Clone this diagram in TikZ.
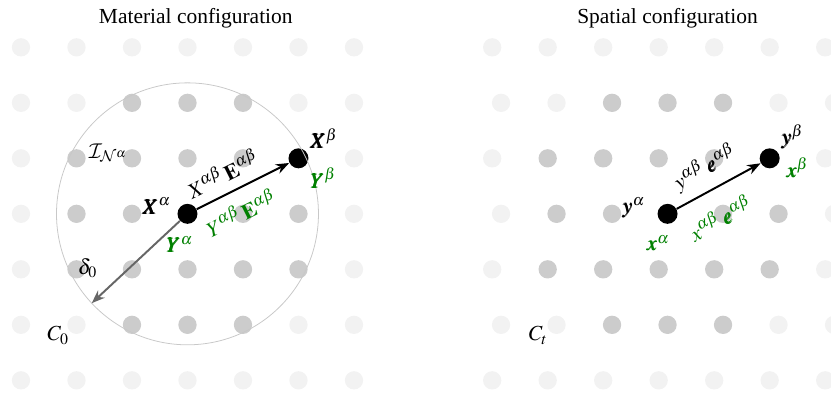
\documentclass[tikz,border=0pt]{standalone}
\usepackage{mathptmx}
\DeclareMathAlphabet{\mathcal}{OMS}{cmsy}{m}{n}
\usepackage{bm}
\usepackage{fontspec}
\setmainfont{Liberation Serif}
\usetikzlibrary{arrows.meta,positioning,calc}
\definecolor{dotout}{HTML}{F2F2F2}
\definecolor{dotin}{HTML}{CCCCCC}
\definecolor{ring}{HTML}{C8C8C8}
\definecolor{leaf}{HTML}{008000}
\definecolor{slate}{HTML}{666666}

\begin{document}
\begin{tikzpicture}[
  font=\fontsize{11}{13}\selectfont,
  pt/.style={circle,fill=black,inner sep=0pt,minimum size=3.6mm},
  lbl/.style={inner sep=1pt},
  glbl/.style={inner sep=1pt,text=leaf},
  vec/.style={-{Stealth[length=2.4mm,width=1.8mm]},line width=1pt,draw=black},
  radvec/.style={-{Stealth[length=2.4mm,width=1.8mm]},line width=1pt,draw=slate},
]
\useasboundingbox (-0.378,-0.252) rectangle (14.595,6.853);

% Lattice points (shaded inside the neighbourhood)
\foreach \i in {0,...,6}{
  \foreach \j in {0,...,6}{
    \pgfmathtruncatemacro\inside{((\i-3)^2+(\j-3)^2<=5)}
    \pgfmathsetmacro\shift{mod(\j,2)==1 ? 0.16 : 0}
    \ifnum\inside=1 \def\dc{dotin}\else\def\dc{dotout}\fi
    \fill[\dc] (\i,\j) circle (0.165);
    \fill[\dc] (8.49+\i+\shift,\j) circle (0.165);
  }
}

% Titles
\node (mat) at (3.15,6.53) {Material configuration};
\node (spa) at (11.65,6.53) {Spatial configuration};

% Material configuration
\node[pt] (Xa) at (3,3) {};
\node[pt] (Xb) at (5,4) {};
\draw[ring,thin] (Xa.center) circle (2.36);
\coordinate (rim) at ($(Xa.center)+(223:2.36)$);
\draw[radvec] (Xa) -- (rim) node[pos=0.82,above left=2pt,text=black] (del) {$\delta_0$};
\draw[vec] (Xa) -- (Xb)
  node[pos=0.38,sloped,above=4pt,lbl] (XE) {$X^{\alpha\beta}\,\mathbf{E}^{\alpha\beta}$}
  node[pos=0.37,sloped,below=5pt,glbl] (YE) {$Y^{\alpha\beta}\,\mathbf{E}^{\alpha\beta}$};
\node[lbl,left=2pt of Xa,yshift=4pt] (XaL) {$\bm{X}^{\alpha}$};
\node[glbl,below=5pt of Xa,xshift=-4pt] (YaL) {$\bm{Y}^{\alpha}$};
\node[lbl,above right=0pt and 1pt of Xb] (XbL) {$\bm{X}^{\beta}$};
\node[glbl,below right=0pt and 1pt of Xb] (YbL) {$\bm{Y}^{\beta}$};
\node[lbl] (neigh) at (1.57,4.10) {$\mathcal{I}_{\mathcal{N}^{\alpha}}$};
\node[lbl] (C0) at (0.67,0.81) {$C_0$};

% Spatial configuration
\node[pt] (ya) at (11.65,3) {};
\node[pt] (yb) at (13.49,4) {};
\draw[vec] (ya) -- (yb)
  node[pos=0.47,sloped,above=4pt,lbl] (ye) {$y^{\alpha\beta}\,\bm{e}^{\alpha\beta}$}
  node[pos=0.36,sloped,below=8pt,glbl] (xe) {$x^{\alpha\beta}\,\bm{e}^{\alpha\beta}$};
\node[lbl,left=5pt of ya,yshift=3pt] (yaL) {$\bm{y}^{\alpha}$};
\node[glbl,below left=6pt and -6pt of ya] (xaL) {$\bm{x}^{\alpha}$};
\node[lbl,above right=0pt and 1pt of yb] (ybL) {$\bm{y}^{\beta}$};
\node[glbl,right=2pt of yb,yshift=-5pt] (xbL) {$\bm{x}^{\beta}$};
\node[lbl] (Ct) at (9.32,0.81) {$C_t$};
\end{tikzpicture}
\end{document}
